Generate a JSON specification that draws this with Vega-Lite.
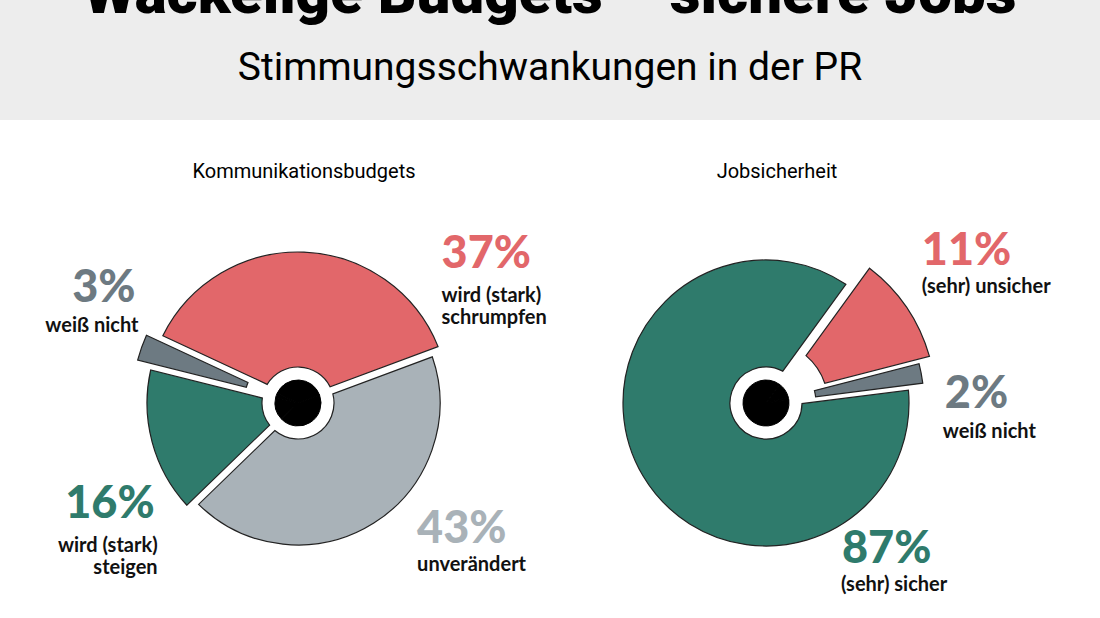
{
  "$schema": "https://vega.github.io/schema/vega-lite/v6.json",
  "background": "#ffffff",
  "padding": 0,
  "spacing": 80,
  "bounds": "flush",
  "config": {"view": {"stroke": null}},
  "datasets": {
    "umfrage": [
      {"umfrage": "Kommunikationsbudgets", "antwort": "wird (stark)\nschrumpfen", "anteil": 0.37, "rang": 1},
      {"umfrage": "Kommunikationsbudgets", "antwort": "unverändert", "anteil": 0.43, "rang": 2},
      {"umfrage": "Kommunikationsbudgets", "antwort": "wird (stark)\nsteigen", "anteil": 0.16, "rang": 3},
      {"umfrage": "Kommunikationsbudgets", "antwort": "weiß nicht", "anteil": 0.03, "rang": 4},
      {"umfrage": "Jobsicherheit", "antwort": "(sehr) unsicher", "anteil": 0.11, "rang": 1},
      {"umfrage": "Jobsicherheit", "antwort": "weiß nicht", "anteil": 0.02, "rang": 2},
      {"umfrage": "Jobsicherheit", "antwort": "(sehr) sicher", "anteil": 0.87, "rang": 3}
    ]
  },
  "vconcat": [
    {
      "width": 1100,
      "height": 120,
      "view": {"fill": "#ededed", "stroke": null},
      "data": {"values": [{"titel": "Wackelige Budgets – sichere Jobs", "untertitel": "Stimmungsschwankungen in der PR"}]},
      "layer": [
        {
          "mark": {"type": "text", "clip": true, "font": "Roboto", "fontWeight": 900, "fontSize": 60, "baseline": "alphabetic", "dy": -47, "color": "#000000"},
          "encoding": {"text": {"field": "titel", "type": "nominal"}}
        },
        {
          "mark": {"type": "text", "clip": true, "font": "Roboto", "fontSize": 39, "baseline": "alphabetic", "dy": 20, "color": "#000000"},
          "encoding": {"text": {"field": "untertitel", "type": "nominal"}}
        }
      ]
    },
    {
      "spacing": 0,
      "bounds": "flush",
      "hconcat": [
        {
          "width": 596,
          "height": 406,
          "data": {"name": "umfrage"},
          "transform": [{"filter": "datum.umfrage === 'Kommunikationsbudgets'"}],
          "encoding": {
            "theta": {"field": "anteil", "type": "quantitative", "stack": true, "scale": {"range": [-1.1345, 5.1487], "zero": true, "nice": false}},
            "order": {"field": "rang", "type": "quantitative"},
            "color": {
              "field": "antwort", "type": "nominal", "legend": null,
              "scale": {
                "domain": ["wird (stark)\nschrumpfen", "(sehr) unsicher", "unverändert", "weiß nicht", "wird (stark)\nsteigen", "(sehr) sicher"],
                "range": ["#e2676a", "#e2676a", "#a9b2b8", "#6d7a82", "#2f7b6c", "#2f7b6c"]
              }
            }
          },
          "layer": [
            {
              "mark": {"type": "arc", "outerRadius": 151, "innerRadius": 36, "padAngle": 0.05, "stroke": "#222222", "strokeWidth": 1.2},
              "encoding": {"opacity": {"condition": {"test": "datum.rang === 1 || datum.rang === 3", "value": 1}, "value": 0}}
            },
            {
              "mark": {"type": "arc", "outerRadius": 142, "innerRadius": 36, "padAngle": 0.05, "stroke": "#222222", "strokeWidth": 1.2},
              "encoding": {"opacity": {"condition": {"test": "datum.rang === 2", "value": 1}, "value": 0}}
            },
            {
              "mark": {"type": "arc", "outerRadius": 166, "innerRadius": 54, "padAngle": 0.03, "stroke": "#222222", "strokeWidth": 1.2},
              "encoding": {"opacity": {"condition": {"test": "datum.rang === 4", "value": 1}, "value": 0}}
            },
            {
              "mark": {"type": "arc", "outerRadius": 23, "innerRadius": 0, "stroke": "#000000", "strokeWidth": 1},
              "encoding": {"color": {"value": "#000000"}}
            },
            {
              "mark": {"type": "text", "radius": 0, "align": "center", "baseline": "alphabetic", "dx": 6, "dy": -225, "font": "Roboto", "fontSize": 20},
              "encoding": {"color": {"value": "#000000"}, "text": {"condition": {"test": "datum.rang === 1", "field": "umfrage", "type": "nominal"}, "value": ""}}
            },
            {
              "mark": {"type": "text", "radius": 165, "align": "left", "baseline": "alphabetic", "dx": 137, "dy": 30, "font": "Lato", "fontWeight": 900, "fontSize": 45},
              "encoding": {"text": {"condition": {"test": "datum.rang === 1", "field": "anteil", "type": "quantitative", "format": ".0%"}, "value": ""}}
            },
            {
              "mark": {"type": "text", "radius": 165, "align": "left", "baseline": "alphabetic", "dx": 137, "dy": 64, "lineBreak": "\n", "lineHeight": 22, "font": "Lato", "fontWeight": "bold", "fontSize": 20},
              "encoding": {"color": {"value": "#111111"}, "text": {"condition": {"test": "datum.rang === 1", "field": "antwort", "type": "nominal"}, "value": ""}}
            },
            {
              "mark": {"type": "text", "radius": 165, "align": "left", "baseline": "alphabetic", "dx": 31, "dy": 0, "font": "Lato", "fontWeight": 900, "fontSize": 45},
              "encoding": {"text": {"condition": {"test": "datum.rang === 2", "field": "anteil", "type": "quantitative", "format": ".0%"}, "value": ""}}
            },
            {
              "mark": {"type": "text", "radius": 165, "align": "left", "baseline": "alphabetic", "dx": 31, "dy": 28, "lineBreak": "\n", "lineHeight": 22, "font": "Lato", "fontWeight": "bold", "fontSize": 20},
              "encoding": {"color": {"value": "#111111"}, "text": {"condition": {"test": "datum.rang === 2", "field": "antwort", "type": "nominal"}, "value": ""}}
            },
            {
              "mark": {"type": "text", "radius": 165, "align": "right", "baseline": "alphabetic", "dx": 16, "dy": 72, "font": "Lato", "fontWeight": 900, "fontSize": 45},
              "encoding": {"text": {"condition": {"test": "datum.rang === 3", "field": "anteil", "type": "quantitative", "format": ".0%"}, "value": ""}}
            },
            {
              "mark": {"type": "text", "radius": 165, "align": "right", "baseline": "alphabetic", "dx": 19, "dy": 106, "lineBreak": "\n", "lineHeight": 22, "font": "Lato", "fontWeight": "bold", "fontSize": 20},
              "encoding": {"color": {"value": "#111111"}, "text": {"condition": {"test": "datum.rang === 3", "field": "antwort", "type": "nominal"}, "value": ""}}
            },
            {
              "mark": {"type": "text", "radius": 165, "align": "right", "baseline": "alphabetic", "dx": -7, "dy": -46, "font": "Lato", "fontWeight": 900, "fontSize": 45},
              "encoding": {"text": {"condition": {"test": "datum.rang === 4", "field": "anteil", "type": "quantitative", "format": ".0%"}, "value": ""}}
            },
            {
              "mark": {"type": "text", "radius": 165, "align": "right", "baseline": "alphabetic", "dx": -4, "dy": -16, "lineBreak": "\n", "lineHeight": 22, "font": "Lato", "fontWeight": "bold", "fontSize": 20},
              "encoding": {"color": {"value": "#111111"}, "text": {"condition": {"test": "datum.rang === 4", "field": "antwort", "type": "nominal"}, "value": ""}}
            }
          ]
        },
        {
          "width": 340,
          "height": 406,
          "data": {"name": "umfrage"},
          "transform": [{"filter": "datum.umfrage === 'Jobsicherheit'"}],
          "encoding": {
            "theta": {"field": "anteil", "type": "quantitative", "stack": true, "scale": {"range": [0.6283, 6.9115], "zero": true, "nice": false}},
            "order": {"field": "rang", "type": "quantitative"},
            "color": {
              "field": "antwort", "type": "nominal", "legend": null,
              "scale": {
                "domain": ["wird (stark)\nschrumpfen", "(sehr) unsicher", "unverändert", "weiß nicht", "wird (stark)\nsteigen", "(sehr) sicher"],
                "range": ["#e2676a", "#e2676a", "#a9b2b8", "#6d7a82", "#2f7b6c", "#2f7b6c"]
              }
            }
          },
          "layer": [
            {
              "mark": {"type": "arc", "outerRadius": 143, "innerRadius": 36, "padAngle": 0.07, "stroke": "#222222", "strokeWidth": 1.2},
              "encoding": {"opacity": {"condition": {"test": "datum.rang === 3", "value": 1}, "value": 0}}
            },
            {
              "mark": {"type": "arc", "outerRadius": 170, "innerRadius": 62, "padAngle": 0.05, "stroke": "#222222", "strokeWidth": 1.2},
              "encoding": {"opacity": {"condition": {"test": "datum.rang === 1", "value": 1}, "value": 0}}
            },
            {
              "mark": {"type": "arc", "outerRadius": 158, "innerRadius": 50, "padAngle": 0, "stroke": "#222222", "strokeWidth": 1.2},
              "encoding": {"opacity": {"condition": {"test": "datum.rang === 2", "value": 1}, "value": 0}}
            },
            {
              "mark": {"type": "arc", "outerRadius": 23, "innerRadius": 0, "stroke": "#000000", "strokeWidth": 1},
              "encoding": {"color": {"value": "#000000"}}
            },
            {
              "mark": {"type": "text", "radius": 0, "align": "center", "baseline": "alphabetic", "dx": 11, "dy": -225, "font": "Roboto", "fontSize": 20},
              "encoding": {"color": {"value": "#000000"}, "text": {"condition": {"test": "datum.rang === 1", "field": "umfrage", "type": "nominal"}, "value": ""}}
            },
            {
              "mark": {"type": "text", "radius": 180, "align": "left", "baseline": "alphabetic", "dx": 7, "dy": -37, "font": "Lato", "fontWeight": 900, "fontSize": 45},
              "encoding": {"text": {"condition": {"test": "datum.rang === 1", "field": "anteil", "type": "quantitative", "format": ".0%"}, "value": ""}}
            },
            {
              "mark": {"type": "text", "radius": 180, "align": "left", "baseline": "alphabetic", "dx": 7, "dy": -9, "lineBreak": "\n", "lineHeight": 22, "font": "Lato", "fontWeight": "bold", "fontSize": 20},
              "encoding": {"color": {"value": "#111111"}, "text": {"condition": {"test": "datum.rang === 1", "field": "antwort", "type": "nominal"}, "value": ""}}
            },
            {
              "mark": {"type": "text", "radius": 180, "align": "left", "baseline": "alphabetic", "dx": 2, "dy": 39, "font": "Lato", "fontWeight": 900, "fontSize": 45},
              "encoding": {"text": {"condition": {"test": "datum.rang === 2", "field": "anteil", "type": "quantitative", "format": ".0%"}, "value": ""}}
            },
            {
              "mark": {"type": "text", "radius": 180, "align": "left", "baseline": "alphabetic", "dx": 0, "dy": 69, "lineBreak": "\n", "lineHeight": 22, "font": "Lato", "fontWeight": "bold", "fontSize": 20},
              "encoding": {"color": {"value": "#111111"}, "text": {"condition": {"test": "datum.rang === 2", "field": "antwort", "type": "nominal"}, "value": ""}}
            },
            {
              "mark": {"type": "text", "radius": 165, "align": "left", "baseline": "alphabetic", "dx": 218, "dy": 76, "font": "Lato", "fontWeight": 900, "fontSize": 45},
              "encoding": {"text": {"condition": {"test": "datum.rang === 3", "field": "anteil", "type": "quantitative", "format": ".0%"}, "value": ""}}
            },
            {
              "mark": {"type": "text", "radius": 165, "align": "left", "baseline": "alphabetic", "dx": 217, "dy": 104, "lineBreak": "\n", "lineHeight": 22, "font": "Lato", "fontWeight": "bold", "fontSize": 20},
              "encoding": {"color": {"value": "#111111"}, "text": {"condition": {"test": "datum.rang === 3", "field": "antwort", "type": "nominal"}, "value": ""}}
            }
          ]
        }
      ]
    }
  ]
}
